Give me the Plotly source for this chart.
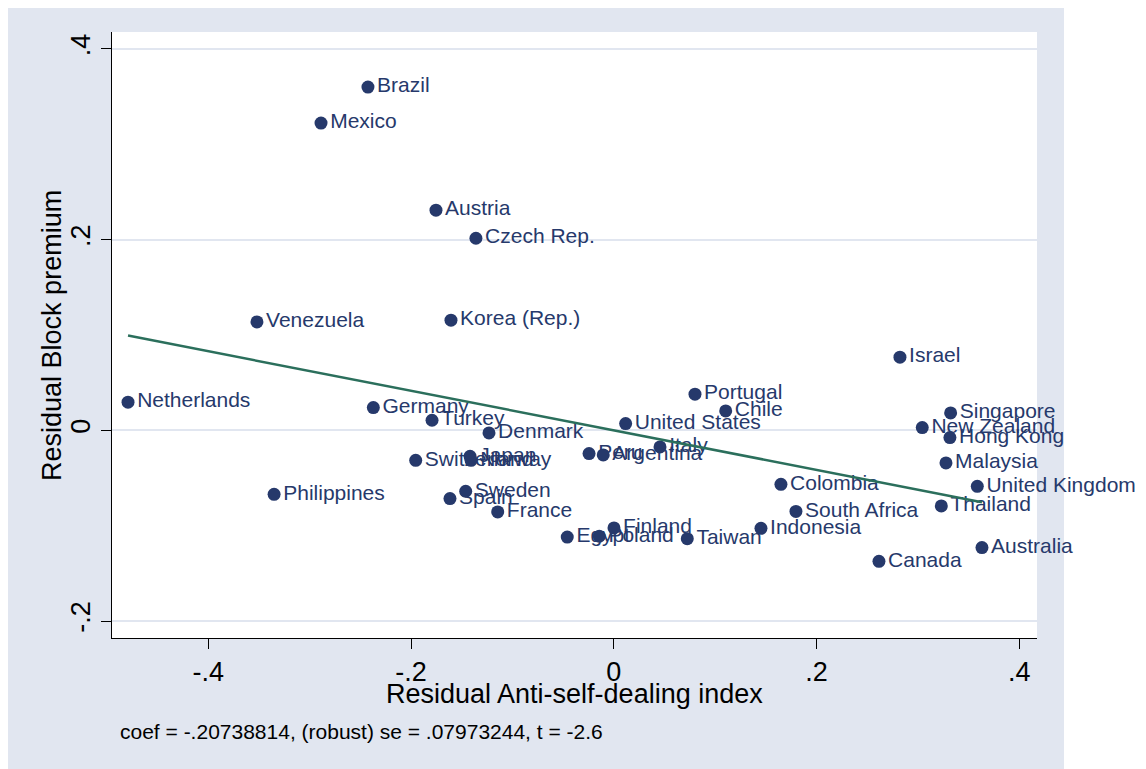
import plotly.graph_objects as go

countries = ["Brazil", "Mexico", "Austria", "Czech Rep.", "Venezuela", "Korea (Rep.)",
             "Netherlands", "Germany", "Turkey", "Denmark", "Switzerland", "Japan", "Norway",
             "Peru", "Argentina", "Italy", "Sweden", "Spain", "France", "Egypt", "Poland",
             "Finland", "Taiwan", "United States", "Portugal", "Chile", "Israel", "Singapore",
             "New Zealand", "Hong Kong", "Malaysia", "United Kingdom", "Thailand", "Australia",
             "Canada", "Colombia", "South Africa", "Indonesia", "Philippines"]
resid_x = [-0.2425, -0.2888, -0.1754, -0.1360, -0.3520, -0.1606,
           -0.4792, -0.2372, -0.1793, -0.1231, -0.1954, -0.1418, -0.1408,
           -0.0244, -0.0104, 0.0456, -0.1461, -0.1616, -0.1145, -0.0459, -0.0143,
           0.0002, 0.0725, 0.0117, 0.0801, 0.1104, 0.2823, 0.3323,
           0.3043, 0.3316, 0.3277, 0.3586, 0.3231, 0.3632,
           0.2616, 0.1649, 0.1797, 0.1452, -0.3351]
resid_y = [0.3600, 0.3223, 0.2309, 0.2015, 0.1137, 0.1155,
           0.0295, 0.0239, 0.0106, -0.0027, -0.0314, -0.0273, -0.0314,
           -0.0244, -0.0258, -0.0174, -0.0639, -0.0716, -0.0856, -0.1119, -0.1111,
           -0.1024, -0.1136, 0.0071, 0.0379, 0.0204, 0.0767, 0.0183,
           0.0029, -0.0076, -0.0342, -0.0587, -0.0793, -0.1230,
           -0.1374, -0.0566, -0.0850, -0.1028, -0.0671]
coef = -0.20738814
x_ticks = [-0.4, -0.2, 0, 0.2, 0.4]
x_ticktext = ["-.4", "-.2", "0", ".2", ".4"]
y_ticks = [-0.2, 0, 0.2, 0.4]
y_ticktext = ["-.2", "0", ".2", ".4"]
note = "coef = -.20738814, (robust) se = .07973244, t = -2.6"

NAVY = "#26396B"
GREEN = "#2B6F5C"
BG = "#E1E6F0"
FONT = "Liberation Sans, Arial, sans-serif"

fig = go.Figure()
fig.add_trace(go.Scatter(
    x=resid_x, y=resid_y, mode="markers+text", text=countries,
    textposition="middle right",
    textfont=dict(family=FONT, size=21, color=NAVY),
    marker=dict(size=13, color=NAVY), cliponaxis=False, showlegend=False))
xmin, xmax = min(resid_x), max(resid_x)
fig.add_trace(go.Scatter(
    x=[xmin, xmax], y=[coef * xmin, coef * xmax], mode="lines",
    line=dict(color=GREEN, width=2.5), showlegend=False))

fig.update_layout(
    width=1138, height=761,
    margin=dict(l=104, r=109, t=24, b=131),
    paper_bgcolor="white", plot_bgcolor="white",
    font=dict(family=FONT, color="black"),
    shapes=[
        dict(type="rect", xref="paper", yref="paper", x0=-0.2, x1=1.0292,
             y0=-0.3, y1=1.2, fillcolor=BG, line=dict(width=0), layer="below"),
        dict(type="rect", xref="paper", yref="paper", x0=0, x1=1,
             y0=0, y1=1, fillcolor="white", line=dict(width=0), layer="below"),
    ],
    annotations=[
        dict(text="Residual Anti-self-dealing index", xref="paper", yref="paper",
             x=0.5, y=-0.0924, xanchor="center", yanchor="middle", showarrow=False,
             font=dict(size=27, color="black")),
        dict(text="Residual Block premium", xref="paper", yref="paper",
             x=-0.0649, y=0.5, xanchor="center", yanchor="middle", showarrow=False,
             textangle=-90, font=dict(size=27, color="black")),
        dict(text=note, xref="paper", yref="paper", x=0.0065, y=-0.1535,
             xanchor="left", yanchor="middle", showarrow=False,
             font=dict(size=21, color="black")),
    ],
)
fig.update_xaxes(range=[-0.495, 0.4175], tickvals=x_ticks, ticktext=x_ticktext,
                 showgrid=False, zeroline=False, showline=True, linecolor="black",
                 linewidth=1, ticks="outside", ticklen=10, tickcolor="black",
                 tickfont=dict(size=27, color="black"))
fig.update_yaxes(range=[-0.2178, 0.4178], tickvals=y_ticks, ticktext=y_ticktext,
                 showgrid=True, gridcolor=BG, gridwidth=2, zeroline=False,
                 showline=True, linecolor="black", linewidth=1, ticks="outside",
                 ticklen=10, tickcolor="black", tickangle=-90,
                 tickfont=dict(size=27, color="black"))

fig.write_html("out.html")
